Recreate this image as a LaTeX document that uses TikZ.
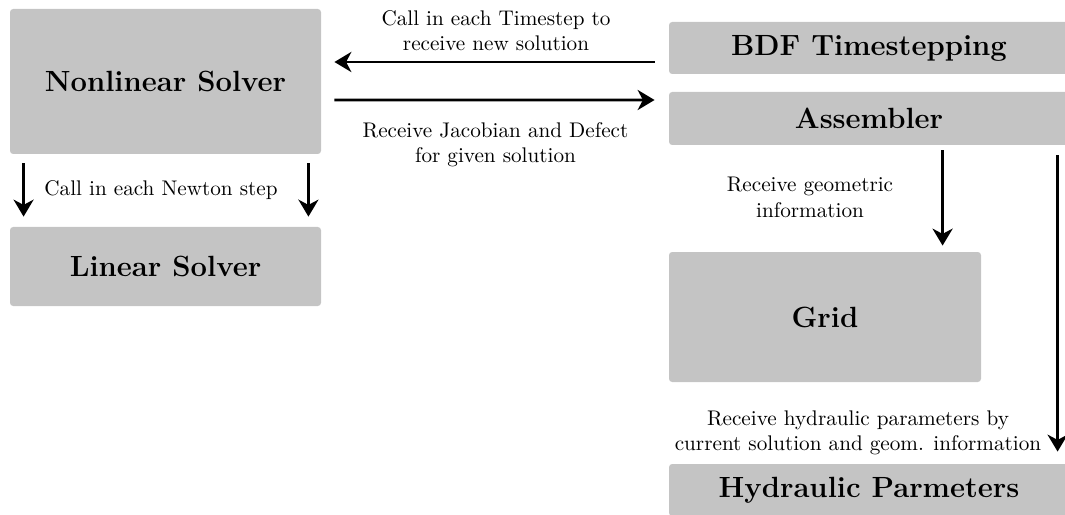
\documentclass[tikz,border=0pt]{standalone}
\usetikzlibrary{arrows.meta,calc}
\definecolor{boxgray}{RGB}{196,196,196}
\tikzset{
  box/.style={fill=boxgray, rounded corners=1.5pt, inner sep=0pt,
    font=\fontsize{13.8}{16.5}\selectfont\bfseries},
  arr/.style={line width=1.2pt, -{Stealth[length=8pt,width=9.5pt,inset=2.5pt]}},
  lbl/.style={align=center, inner sep=0pt, anchor=north, font=\normalsize}
}
\begin{document}
\begin{tikzpicture}[x=0.472pt,y=-0.472pt]
\useasboundingbox (0,0) rectangle (1065,515);
% boxes
\node[box, minimum width=311*0.472pt, minimum height=145*0.472pt] (nls) at (165.5,81.5) {Nonlinear Solver};
\node[box, minimum width=311*0.472pt, minimum height=79*0.472pt] (lin) at (165.5,266.5) {Linear Solver};
\node[box, minimum width=400*0.472pt, minimum height=52*0.472pt] (bdf) at (869,48) {BDF Timestepping};
\node[box, minimum width=400*0.472pt, minimum height=53*0.472pt] (asm) at (869,118.5) {Assembler};
\node[box, minimum width=312*0.472pt, minimum height=130*0.472pt] (grid) at (825,317) {Grid};
\node[box, minimum width=400*0.472pt, minimum height=52*0.472pt] (hyd) at (869,490) {Hydraulic Parmeters};
% connectors
\coordinate (s1) at ($(asm.south west)+(274,5)$);
\coordinate (s2) at ($(asm.south west)+(389,10)$);
\draw[arr] ($(bdf.west)+(-14,14)$) -- ($(nls.east)+(13,-19.5)$);
\draw[arr] ($(nls.east)+(13,18.5)$) -- ($(asm.west)+(-14,-18.5)$);
\draw[arr] ($(nls.south west)+(14,9)$) -- ($(lin.north west)+(14,-10)$);
\draw[arr] ($(nls.south east)+(-13,9)$) -- ($(lin.north east)+(-13,-10)$);
\draw[arr] (s1) -- ($(s1 |- grid.north)+(0,-6)$);
\draw[arr] (s2) -- ($(s2 |- hyd.north)+(0,-12)$);
% labels
\node[lbl] (l1) at (496,10) {Call in each Timestep to\\receive new solution};
\node[lbl] (l2) at (495.5,122) {Receive Jacobian and Defect\\for given solution};
\node[lbl] (l3) at (161,180.5) {Call in each Newton step};
\node[lbl] (l4) at (810,177) {Receive geometric\\information};
\node[lbl] (l5) at (858,410) {Receive hydraulic parameters by\\current solution and geom. information};
\end{tikzpicture}
\end{document}
